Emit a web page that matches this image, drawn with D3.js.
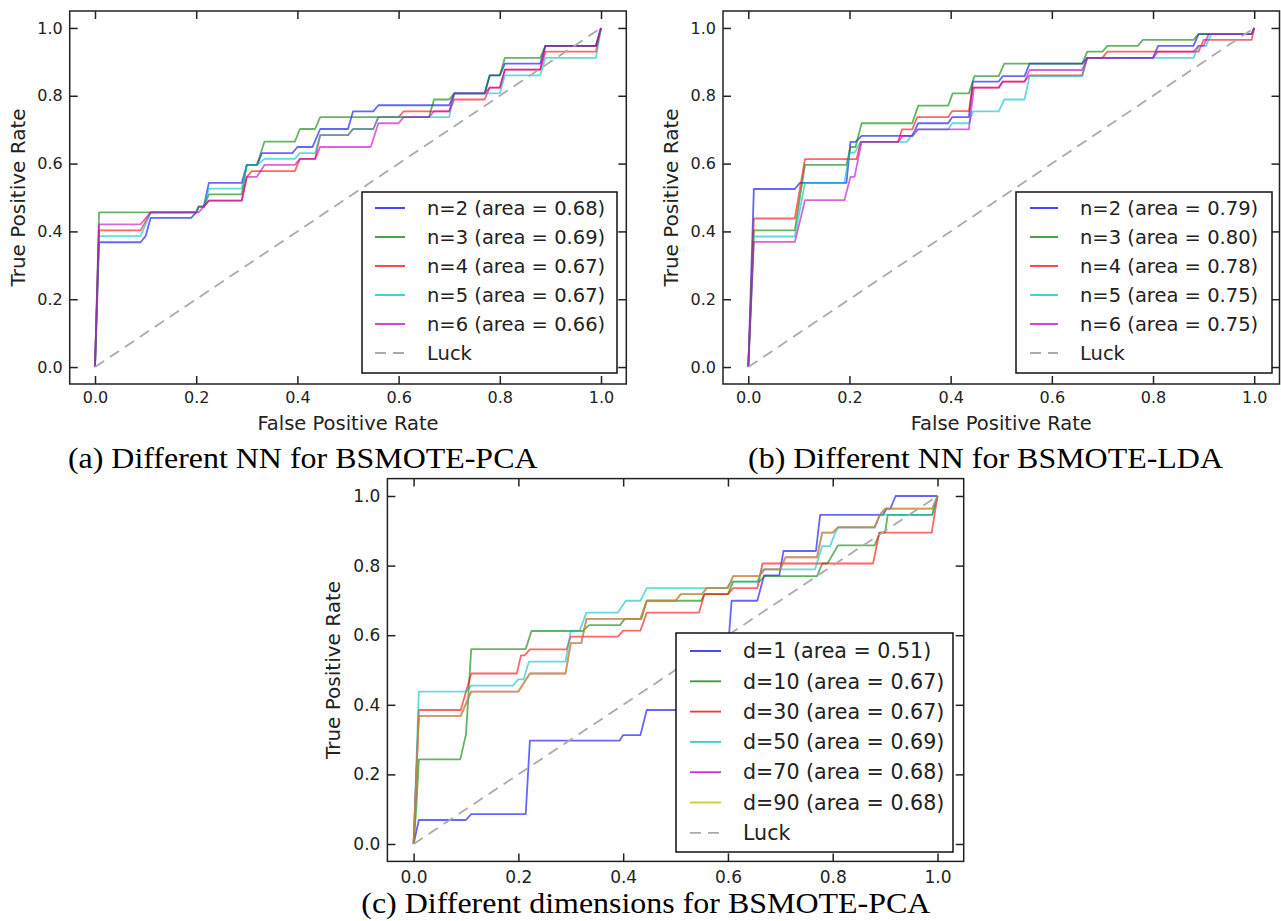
<!DOCTYPE html>
<html>
<head>
<meta charset="utf-8">
<script src="https://cdn.jsdelivr.net/npm/d3@7"></script>
<style>
  body { margin: 0; background: #fff; }
  svg { display: block; }
  .tick text { font-family: "DejaVu Sans", sans-serif; fill: #222; }
</style>
</head>
<body>
<script>
// tick values shared by all three panels
var ticks = [0, 0.2, 0.4, 0.6, 0.8, 1.0];
var luck = [[0, 0], [1, 1]];

// (a) Different NN for BSMOTE-PCA  -- [fpr, tpr] corners
var labelsA = ["n=2 (area = 0.68)", "n=3 (area = 0.69)", "n=4 (area = 0.67)",
               "n=5 (area = 0.67)", "n=6 (area = 0.66)", "Luck"];
var a_n2 = [[0,0],[0.008,0.368],[0.09,0.368],[0.10,0.386],[0.11,0.44],[0.19,0.44],[0.2,0.456],[0.205,0.473],[0.215,0.473],[0.225,0.543],[0.29,0.543],[0.30,0.596],[0.32,0.596],[0.33,0.631],[0.39,0.631],[0.40,0.649],[0.43,0.649],[0.445,0.702],[0.50,0.702],[0.51,0.754],[0.55,0.754],[0.56,0.772],[0.70,0.772],[0.71,0.807],[0.77,0.807],[0.78,0.860],[0.80,0.860],[0.81,0.895],[0.88,0.895],[0.89,0.947],[0.99,0.947],[1,1]];
var a_n3 = [[0,0],[0.008,0.456],[0.2,0.456],[0.205,0.473],[0.215,0.473],[0.225,0.509],[0.29,0.509],[0.30,0.596],[0.32,0.596],[0.335,0.665],[0.395,0.665],[0.405,0.702],[0.435,0.702],[0.445,0.737],[0.66,0.737],[0.67,0.789],[0.70,0.789],[0.71,0.807],[0.77,0.807],[0.78,0.860],[0.80,0.860],[0.81,0.912],[0.88,0.912],[0.89,0.947],[0.99,0.947],[1,1]];
var a_n4 = [[0,0],[0.008,0.403],[0.09,0.403],[0.11,0.456],[0.2,0.456],[0.205,0.473],[0.215,0.473],[0.225,0.491],[0.29,0.491],[0.30,0.561],[0.31,0.578],[0.395,0.578],[0.405,0.614],[0.435,0.614],[0.445,0.684],[0.50,0.684],[0.51,0.702],[0.55,0.702],[0.56,0.737],[0.60,0.737],[0.61,0.754],[0.70,0.754],[0.71,0.789],[0.77,0.789],[0.78,0.824],[0.80,0.824],[0.81,0.877],[0.88,0.877],[0.89,0.930],[0.99,0.930],[1,1]];
var a_n5 = [[0,0],[0.008,0.386],[0.09,0.386],[0.11,0.456],[0.2,0.456],[0.205,0.473],[0.215,0.473],[0.225,0.526],[0.29,0.526],[0.30,0.596],[0.32,0.596],[0.335,0.614],[0.395,0.614],[0.405,0.631],[0.435,0.631],[0.445,0.684],[0.50,0.684],[0.51,0.702],[0.55,0.702],[0.56,0.737],[0.70,0.737],[0.71,0.807],[0.80,0.807],[0.81,0.860],[0.88,0.860],[0.89,0.912],[0.99,0.912],[1,1]];
var a_n6 = [[0,0],[0.008,0.421],[0.09,0.421],[0.11,0.456],[0.205,0.456],[0.225,0.491],[0.29,0.491],[0.30,0.561],[0.32,0.561],[0.335,0.596],[0.395,0.596],[0.405,0.614],[0.435,0.614],[0.445,0.649],[0.545,0.649],[0.56,0.719],[0.60,0.719],[0.61,0.737],[0.66,0.737],[0.67,0.754],[0.70,0.754],[0.71,0.807],[0.77,0.807],[0.78,0.824],[0.80,0.824],[0.81,0.877],[0.88,0.877],[0.89,0.947],[0.99,0.947],[1,1]];

// (b) Different NN for BSMOTE-LDA
var labelsB = ["n=2 (area = 0.79)", "n=3 (area = 0.80)", "n=4 (area = 0.78)",
               "n=5 (area = 0.75)", "n=6 (area = 0.75)", "Luck"];
var b_n2 = [[0,0],[0.011,0.525],[0.092,0.525],[0.102,0.543],[0.194,0.543],[0.202,0.664],[0.212,0.664],[0.224,0.682],[0.324,0.682],[0.336,0.719],[0.395,0.719],[0.403,0.737],[0.436,0.737],[0.444,0.842],[0.495,0.842],[0.503,0.858],[0.546,0.858],[0.556,0.895],[0.66,0.895],[0.67,0.912],[0.80,0.912],[0.81,0.947],[0.88,0.947],[0.89,0.982],[0.995,0.982],[1,1]];
var b_n3 = [[0,0],[0.011,0.403],[0.092,0.403],[0.112,0.596],[0.194,0.596],[0.202,0.649],[0.212,0.649],[0.224,0.719],[0.324,0.719],[0.336,0.771],[0.395,0.771],[0.404,0.807],[0.436,0.807],[0.447,0.858],[0.495,0.858],[0.506,0.895],[0.66,0.895],[0.67,0.930],[0.70,0.930],[0.71,0.947],[0.77,0.947],[0.78,0.965],[0.88,0.965],[0.89,0.982],[0.995,0.982],[1,1]];
var b_n4 = [[0,0],[0.011,0.438],[0.092,0.438],[0.112,0.613],[0.214,0.613],[0.222,0.664],[0.296,0.664],[0.304,0.701],[0.324,0.701],[0.334,0.737],[0.395,0.737],[0.403,0.755],[0.436,0.755],[0.443,0.824],[0.495,0.824],[0.503,0.842],[0.546,0.842],[0.556,0.86],[0.66,0.86],[0.67,0.912],[0.70,0.912],[0.71,0.930],[0.89,0.930],[0.90,0.965],[0.995,0.965],[1,1]];
var b_n5 = [[0,0],[0.011,0.385],[0.092,0.385],[0.112,0.543],[0.19,0.543],[0.2,0.632],[0.21,0.632],[0.222,0.664],[0.313,0.664],[0.332,0.701],[0.395,0.701],[0.403,0.719],[0.436,0.719],[0.444,0.754],[0.495,0.754],[0.506,0.789],[0.546,0.789],[0.556,0.858],[0.66,0.858],[0.67,0.912],[0.88,0.912],[0.89,0.947],[0.905,0.947],[0.915,0.982],[0.995,0.982],[1,1]];
var b_n6 = [[0,0],[0.011,0.369],[0.092,0.369],[0.112,0.492],[0.19,0.492],[0.202,0.561],[0.21,0.561],[0.224,0.664],[0.296,0.664],[0.306,0.682],[0.325,0.682],[0.336,0.701],[0.436,0.701],[0.446,0.824],[0.495,0.824],[0.503,0.842],[0.546,0.842],[0.556,0.876],[0.66,0.876],[0.67,0.912],[0.80,0.912],[0.81,0.930],[0.88,0.930],[0.89,0.947],[0.90,0.947],[0.91,0.982],[0.995,0.982],[1,1]];

// (c) Different dimensions for BSMOTE-PCA
var labelsC = ["d=1 (area = 0.51)", "d=10 (area = 0.67)", "d=30 (area = 0.67)",
               "d=50 (area = 0.69)", "d=70 (area = 0.68)", "d=90 (area = 0.68)", "Luck"];
var c_d1 = [[0,0],[0.01,0.069],[0.1,0.069],[0.11,0.086],[0.214,0.086],[0.222,0.297],[0.393,0.297],[0.40,0.313],[0.433,0.313],[0.445,0.385],[0.50,0.385],[0.51,0.40],[0.55,0.40],[0.56,0.45],[0.59,0.45],[0.598,0.52],[0.607,0.699],[0.656,0.699],[0.669,0.772],[0.698,0.772],[0.706,0.842],[0.768,0.842],[0.776,0.946],[0.896,0.946],[0.903,0.964],[0.91,0.964],[0.92,1.0],[1,1]];
var c_d10 = [[0,0],[0.005,0.1],[0.01,0.243],[0.089,0.243],[0.1,0.315],[0.11,0.56],[0.214,0.56],[0.225,0.612],[0.323,0.612],[0.335,0.629],[0.394,0.629],[0.403,0.647],[0.435,0.647],[0.445,0.699],[0.549,0.699],[0.555,0.718],[0.60,0.718],[0.61,0.754],[0.66,0.754],[0.67,0.77],[0.77,0.77],[0.78,0.806],[0.79,0.806],[0.81,0.858],[0.88,0.858],[0.89,0.895],[0.90,0.895],[0.905,0.946],[0.99,0.946],[1,1]];
var c_d30 = [[0,0],[0.01,0.385],[0.09,0.385],[0.11,0.49],[0.197,0.49],[0.205,0.542],[0.212,0.542],[0.222,0.559],[0.292,0.559],[0.30,0.596],[0.39,0.596],[0.40,0.613],[0.433,0.613],[0.445,0.665],[0.545,0.665],[0.555,0.718],[0.60,0.718],[0.61,0.735],[0.656,0.735],[0.666,0.806],[0.877,0.806],[0.889,0.895],[0.989,0.895],[1,1]];
var c_d50 = [[0,0],[0.01,0.438],[0.1,0.438],[0.11,0.455],[0.189,0.455],[0.2,0.473],[0.21,0.473],[0.22,0.524],[0.29,0.524],[0.30,0.613],[0.317,0.613],[0.33,0.665],[0.39,0.665],[0.405,0.699],[0.433,0.699],[0.445,0.735],[0.597,0.735],[0.607,0.754],[0.656,0.754],[0.666,0.789],[0.766,0.789],[0.78,0.856],[0.795,0.856],[0.805,0.895],[0.81,0.91],[0.88,0.91],[0.89,0.946],[0.99,0.946],[1,1]];
var c_d70 = [[0,0],[0.01,0.368],[0.09,0.368],[0.11,0.438],[0.2,0.438],[0.222,0.49],[0.29,0.49],[0.30,0.577],[0.32,0.577],[0.33,0.647],[0.433,0.647],[0.445,0.699],[0.50,0.699],[0.51,0.718],[0.55,0.718],[0.56,0.735],[0.60,0.735],[0.61,0.77],[0.66,0.77],[0.67,0.789],[0.70,0.789],[0.71,0.824],[0.77,0.824],[0.78,0.895],[0.80,0.895],[0.81,0.91],[0.88,0.91],[0.89,0.946],[0.90,0.964],[0.99,0.964],[1,1]];
var c_d90 = [[0,0],[0.01,0.368],[0.09,0.368],[0.11,0.438],[0.2,0.438],[0.222,0.49],[0.29,0.49],[0.30,0.577],[0.32,0.577],[0.33,0.647],[0.433,0.647],[0.445,0.699],[0.50,0.699],[0.51,0.718],[0.55,0.718],[0.56,0.735],[0.60,0.735],[0.61,0.77],[0.66,0.77],[0.67,0.789],[0.70,0.789],[0.71,0.824],[0.77,0.824],[0.78,0.895],[0.80,0.895],[0.81,0.91],[0.88,0.91],[0.89,0.946],[0.90,0.964],[0.99,0.964],[1,1]];

// matplotlib classic colour cycle b g r c m y
var colors = ["#0000ff", "#008000", "#ff0000", "#00bfbf", "#bf00bf", "#bfbf00"];
var luckColor = "#aaaaaa";

var svg = d3.select("body").append("svg")
    .attr("width", 1281)
    .attr("height", 921);
svg.append("rect").attr("width", 1281).attr("height", 921).attr("fill", "#fff");

function drawPanel(p) {
    var x = d3.scaleLinear().domain([-0.05, 1.05]).range([p.left, p.right]);
    var y = d3.scaleLinear().domain([-0.05, 1.05]).range([p.bottom, p.top]);
    var g = svg.append("g");
    var line = d3.line().x(d => x(d[0])).y(d => y(d[1]));

    p.series.forEach(function (s, i) {
        g.append("path").datum(s)
            .attr("d", line)
            .attr("fill", "none")
            .attr("stroke", colors[i])
            .attr("stroke-opacity", 0.6)
            .attr("stroke-width", 1.8)
            .attr("stroke-linejoin", "round");
    });
    g.append("path").datum(luck)
        .attr("d", line)
        .attr("fill", "none")
        .attr("stroke", luckColor)
        .attr("stroke-width", 1.8)
        .attr("stroke-dasharray", "11,7");

    var fmt = d3.format(".1f");
    // inward ticks on all four sides, like matplotlib classic
    var bottom = g.append("g").attr("transform", "translate(0," + p.bottom + ")")
        .call(d3.axisBottom(x).tickValues(ticks).tickFormat(fmt).tickSize(-8).tickPadding(p.padX));
    var left = g.append("g").attr("transform", "translate(" + p.left + ",0)")
        .call(d3.axisLeft(y).tickValues(ticks).tickFormat(fmt).tickSize(-8).tickPadding(7));
    var top = g.append("g").attr("transform", "translate(0," + p.top + ")")
        .call(d3.axisTop(x).tickValues(ticks).tickFormat("").tickSize(-8));
    var right = g.append("g").attr("transform", "translate(" + p.right + ",0)")
        .call(d3.axisRight(y).tickValues(ticks).tickFormat("").tickSize(-8));
    [bottom, left, top, right].forEach(function (a) {
        a.attr("color", "#222");
        a.select(".domain").remove();
        a.selectAll("line").attr("stroke-width", 1.5);
        a.selectAll("text").style("font-size", p.tickFont + "px");
    });

    g.append("rect")
        .attr("x", p.left).attr("y", p.top)
        .attr("width", p.right - p.left).attr("height", p.bottom - p.top)
        .attr("fill", "none").attr("stroke", "#222").attr("stroke-width", 1.5);

    // legend
    var L = p.legend;
    g.append("rect")
        .attr("x", L.x).attr("y", L.y).attr("width", L.w).attr("height", L.h)
        .attr("fill", "#fff").attr("stroke", "#111").attr("stroke-width", 1.5);
    p.labels.forEach(function (t, i) {
        var yy = L.row0 + i * L.step;
        var isLuck = i == p.labels.length - 1;
        g.append("line")
            .attr("x1", L.x0).attr("x2", L.x1).attr("y1", yy).attr("y2", yy)
            .attr("stroke", isLuck ? luckColor : colors[i])
            .attr("stroke-opacity", isLuck ? 1 : 0.8)
            .attr("stroke-width", 1.8)
            .attr("stroke-dasharray", isLuck ? "11,7" : null);
        g.append("text")
            .attr("x", L.tx).attr("y", yy).attr("dy", "0.35em")
            .style("font-family", "DejaVu Sans, sans-serif")
            .style("font-size", L.font + "px")
            .attr("fill", "#222")
            .text(t);
    });

    if (p.xlabel) {
        g.append("text")
            .attr("x", (p.left + p.right) / 2).attr("y", p.xlabel).attr("dy", "0.35em")
            .attr("text-anchor", "middle")
            .style("font-family", "DejaVu Sans, sans-serif").style("font-size", "19.5px")
            .attr("fill", "#222")
            .text("False Positive Rate");
    }
    g.append("text")
        .attr("transform", "translate(" + p.ylabel + "," + (p.top + p.bottom) / 2 + ") rotate(-90)")
        .attr("dy", "0.35em")
        .attr("text-anchor", "middle")
        .style("font-family", "DejaVu Sans, sans-serif").style("font-size", "20px")
        .attr("fill", "#222")
        .text("True Positive Rate");

    // caption of the sub-figure, set in the paper's serif face
    g.append("text")
        .attr("transform", "translate(" + p.cap[0] + "," + p.cap[1] + ") scale(1.065,1)")
        .attr("dy", "0.35em")
        .attr("text-anchor", "middle")
        .style("font-family", "'Liberation Serif', 'Times New Roman', serif").style("font-size", "30px")
        .attr("fill", "#000")
        .text(p.caption);
}

drawPanel({
    left: 69.7, right: 626.3, top: 11, bottom: 384,
    tickFont: 16, padX: 8,
    series: [a_n2, a_n3, a_n4, a_n5, a_n6], labels: labelsA,
    legend: {x: 362, y: 192, w: 255, h: 181, x0: 375, x1: 405, tx: 427, row0: 208, step: 29, font: 19.5},
    xlabel: 423, ylabel: 18,
    cap: [302.7, 457], caption: "(a) Different NN for BSMOTE-PCA"
});

drawPanel({
    left: 723, right: 1279.5, top: 11, bottom: 384,
    tickFont: 16, padX: 8,
    series: [b_n2, b_n3, b_n4, b_n5, b_n6], labels: labelsB,
    legend: {x: 1016, y: 192, w: 256, h: 181, x0: 1030, x1: 1058, tx: 1080, row0: 208, step: 29, font: 19.5},
    xlabel: 423, ylabel: 671,
    cap: [985.5, 457], caption: "(b) Different NN for BSMOTE-LDA"
});

drawPanel({
    left: 387.4, right: 963.7, top: 478.6, bottom: 861.4,
    tickFont: 17, padX: 10,
    series: [c_d1, c_d10, c_d30, c_d50, c_d70, c_d90], labels: labelsC,
    legend: {x: 676, y: 633, w: 277, h: 219, x0: 690, x1: 721, tx: 743, row0: 651, step: 30.3, font: 20.6},
    xlabel: null, ylabel: 332.5,
    cap: [645.8, 902], caption: "(c) Different dimensions for BSMOTE-PCA"
});
</script>
</body>
</html>
